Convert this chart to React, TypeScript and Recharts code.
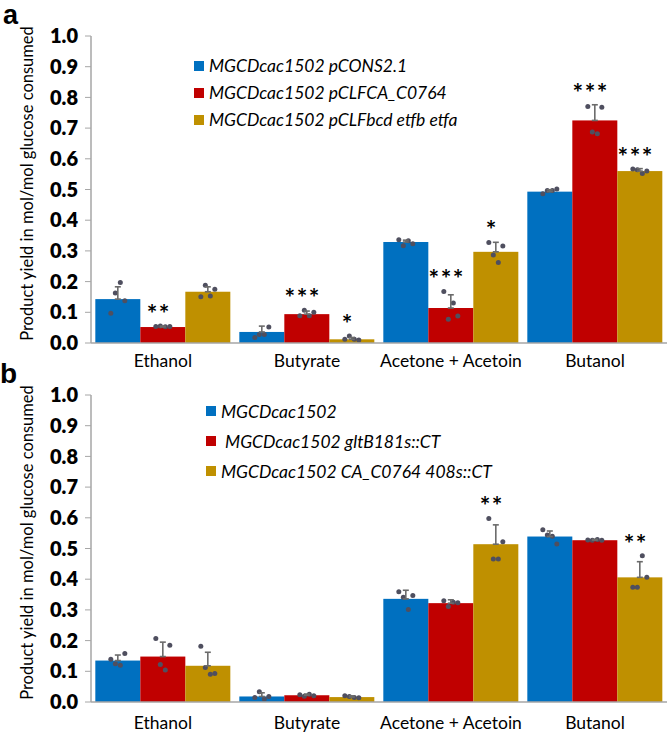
import { BarChart, Bar, XAxis, YAxis, ErrorBar, Legend, Label } from "recharts"

const FONT = "Lato, 'Open Sans', sans-serif"
const BLUE = "#0070C0"
const RED = "#C00000"
const GOLD = "#BF9000"
const AXIS = "#a6a6a6"
const DOT = "#4f4f5f"

const categories = ["Ethanol", "Butyrate", "Acetone + Acetoin", "Butanol"]
const yTicks = [0, 0.1, 0.2, 0.3, 0.4, 0.5, 0.6, 0.7, 0.8, 0.9, 1.0]

// panel a
const aNames = ["MGCDcac1502 pCONS2.1", "MGCDcac1502 pCLFCA_C0764", "MGCDcac1502 pCLFbcd etfb etfa"]
const aControl = [0.143, 0.036, 0.329, 0.493]
const aC0764 = [0.052, 0.094, 0.114, 0.725]
const aBcd = [0.167, 0.012, 0.297, 0.56]
const aControlErr = [0.04, 0.019, 0.006, 0.006]
const aC0764Err = [0.003, 0.01, 0.043, 0.051]
const aBcdErr = [0.016, 0.006, 0.031, 0.008]
const aControlDots = [
  [0.097, 0.163, 0.197, 0.138],
  [0.018, 0.028, 0.028, 0.052],
  [0.336, 0.317, 0.333, 0.323],
  [0.486, 0.497, 0.497, 0.502],
]
const aC0764Dots = [
  [0.054, 0.055, 0.053, 0.054],
  [0.089, 0.107, 0.089, 0.1],
  [0.168, 0.077, 0.13, 0.088],
  [0.77, 0.687, 0.682, 0.768],
]
const aBcdDots = [
  [0.151, 0.188, 0.153, 0.175],
  [0.012, 0.023, 0.012, 0.01],
  [0.327, 0.287, 0.262, 0.316],
  [0.567, 0.564, 0.552, 0.56],
]
const aControlSig = ["", "", "", ""]
const aC0764Sig = ["**", "***", "***", "***"]
const aBcdSig = ["", "*", "*", "***"]

// panel b
const bNames = ["MGCDcac1502", " MGCDcac1502 gltB181s::CT", "MGCDcac1502 CA_C0764 408s::CT"]
const bControl = [0.135, 0.018, 0.336, 0.539]
const bGlt = [0.148, 0.022, 0.322, 0.527]
const bC0764 = [0.118, 0.016, 0.514, 0.406]
const bControlErr = [0.018, 0.012, 0.028, 0.018]
const bGltErr = [0.047, 0.004, 0.011, 0.003]
const bC0764Err = [0.044, 0.004, 0.063, 0.051]
const bControlDots = [
  [0.139, 0.125, 0.12, 0.158],
  [0.015, 0.033, 0.01, 0.018],
  [0.359, 0.341, 0.301, 0.347],
  [0.561, 0.544, 0.54, 0.515],
]
const bGltDots = [
  [0.207, 0.122, 0.104, 0.185],
  [0.024, 0.019, 0.025, 0.02],
  [0.33, 0.311, 0.325, 0.323],
  [0.528, 0.527, 0.529, 0.527],
]
const bC0764Dots = [
  [0.182, 0.112, 0.09, 0.093],
  [0.02, 0.018, 0.015, 0.014],
  [0.598, 0.466, 0.466, 0.522],
  [0.374, 0.374, 0.476, 0.406],
]
const bControlSig = ["", "", "", ""]
const bGltSig = ["", "", "", ""]
const bC0764Sig = ["", "", "**", "**"]

const JITTER = [-7, -2.5, 2.5, 7]

function buildRows(vals: number[][], errs: number[][], dots: number[][][], sigs: string[][]) {
  return categories.map((name, i) => {
    const row: any = { name }
    vals.forEach((v, k) => {
      row[`v${k}`] = v[i]
      row[`e${k}`] = errs[k][i]
      row[`d${k}`] = dots[k][i]
      row[`s${k}`] = sigs[k][i]
    })
    return row
  })
}

const rowsA = buildRows(
  [aControl, aC0764, aBcd],
  [aControlErr, aC0764Err, aBcdErr],
  [aControlDots, aC0764Dots, aBcdDots],
  [aControlSig, aC0764Sig, aBcdSig]
)
const rowsB = buildRows(
  [bControl, bGlt, bC0764],
  [bControlErr, bGltErr, bC0764Err],
  [bControlDots, bGltDots, bC0764Dots],
  [bControlSig, bGltSig, bC0764Sig]
)

// bar + replicate dots + significance stars, all placed from the bar's own scale
const makeShape = (k: number) => (props: any) => {
  const { x, y, width, height, fill, payload } = props
  const v = payload[`v${k}`]
  const perUnit = v > 0 ? height / v : 0
  const base = y + height
  const cx = x + width / 2
  const dots: number[] = payload[`d${k}`]
  const top = Math.max(v + payload[`e${k}`], ...dots)
  const sig: string = payload[`s${k}`]
  return (
    <g>
      <rect x={x} y={y} width={width} height={height} fill={fill} />
      {dots.map((d, i) => (
        <circle key={i} cx={cx + JITTER[i]} cy={base - d * perUnit} r={2.5} fill={DOT} />
      ))}
      {sig && (
        <text
          x={cx - 4}
          y={base - top * perUnit - 3}
          textAnchor="middle"
          fontFamily={FONT}
          fontSize={25}
          fontWeight={700}
          letterSpacing={1.5}
          fill="#000"
        >
          {sig}
        </text>
      )}
    </g>
  )
}

const shapes = [makeShape(0), makeShape(1), makeShape(2)]

const YTitle = (props: any) => {
  const vb = props.viewBox
  const cx = vb.x + 27
  const cy = vb.y + vb.height / 2 - 6
  return (
    <text
      x={cx}
      y={cy}
      transform={`rotate(-90, ${cx}, ${cy})`}
      textAnchor="middle"
      dominantBaseline="central"
      fontFamily={FONT}
      fontSize={16.5}
      fill="#000"
    >
      Product yield in mol/mol glucose consumed
    </text>
  )
}

const makeLegend = (rowH: number) => (props: any) => {
  const items = [...props.payload].sort((p: any, q: any) =>
    String(p.dataKey).localeCompare(String(q.dataKey))
  )
  return (
    <div style={{ fontFamily: FONT, fontStyle: "italic", fontSize: 17.5, color: "#000" }}>
      {items.map((e: any, i: number) => (
        <div key={i} style={{ display: "flex", alignItems: "center", height: rowH }}>
          <span style={{ width: 10, height: 10, background: e.color, marginRight: 5, flex: "none" }} />
          <span style={{ whiteSpace: "pre" }}>{e.value}</span>
        </div>
      ))}
    </div>
  )
}

function Panel({ data, names, top, legendPos, rowH, height, xMargin }: any) {
  const colors = [BLUE, RED, GOLD]
  const errKeys = ["e0", "e1", "e2"]
  return (
    <BarChart
      width={670}
      height={height}
      data={data}
      margin={{ top, right: 3, bottom: 0, left: 0 }}
      barGap={0}
      barCategoryGap="3%"
    >
      <XAxis
        dataKey="name"
        interval={0}
        tickLine={false}
        tickSize={0}
        tickMargin={xMargin}
        height={height - top - 307}
        axisLine={{ stroke: AXIS, strokeWidth: 1.5 }}
        tick={{ fill: "#000", fontSize: 17.5, fontFamily: FONT }}
      />
      <XAxis
        xAxisId="frame"
        orientation="top"
        dataKey="name"
        tick={false}
        tickLine={false}
        height={0}
        axisLine={{ stroke: AXIS, strokeWidth: 1.5 }}
      />
      <YAxis
        domain={[0, 1]}
        ticks={yTicks}
        interval={0}
        tickFormatter={(v: number) => v.toFixed(1)}
        width={91}
        tickSize={6}
        tickMargin={7}
        tickLine={{ stroke: AXIS }}
        axisLine={{ stroke: AXIS, strokeWidth: 1.5 }}
        tick={{ fill: "#000", fontSize: 20, fontWeight: 800, fontFamily: FONT }}
      >
        <Label content={<YTitle />} />
      </YAxis>
      <YAxis
        yAxisId="frame"
        orientation="right"
        domain={[0, 1]}
        tick={false}
        tickLine={false}
        width={0}
        axisLine={{ stroke: AXIS, strokeWidth: 1.5 }}
      />
      <Legend
        layout="vertical"
        align="center"
        verticalAlign="middle"
        wrapperStyle={{ left: legendPos[0], top: legendPos[1], width: "auto", height: "auto" }}
        content={makeLegend(rowH)}
      />
      {[0, 1, 2].map((k) => (
        <Bar
          key={k}
          dataKey={`v${k}`}
          name={names[k]}
          fill={colors[k]}
          shape={shapes[k]}
          isAnimationActive={false}
        >
          <ErrorBar
            dataKey={(r: any) => [0, r[errKeys[k]]]}
            direction="y"
            width={3}
            stroke="#6b6b6b"
            strokeWidth={1.6}
          />
        </Bar>
      ))}
    </BarChart>
  )
}

export default function App() {
  return (
    <div
      style={{
        position: "absolute",
        left: 0,
        top: 0,
        width: 670,
        height: 735,
        background: "#fff",
        fontFamily: FONT,
      }}
    >
      <Panel data={rowsA} names={aNames} top={36} height={370} legendPos={[194, 52]} rowH={27} xMargin={12} />
      <Panel data={rowsB} names={bNames} top={25} height={365} legendPos={[206, 26]} rowH={30} xMargin={15} />
      <svg width={670} height={735} style={{ position: "absolute", left: 0, top: 0, pointerEvents: "none" }}>
        <text x={3} y={24} fontFamily="'Liberation Sans', Arial, sans-serif" fontWeight={700} fontSize={27}>
          a
        </text>
        <text x={0} y={383} fontFamily="'Liberation Sans', Arial, sans-serif" fontWeight={700} fontSize={28}>
          b
        </text>
      </svg>
    </div>
  )
}
